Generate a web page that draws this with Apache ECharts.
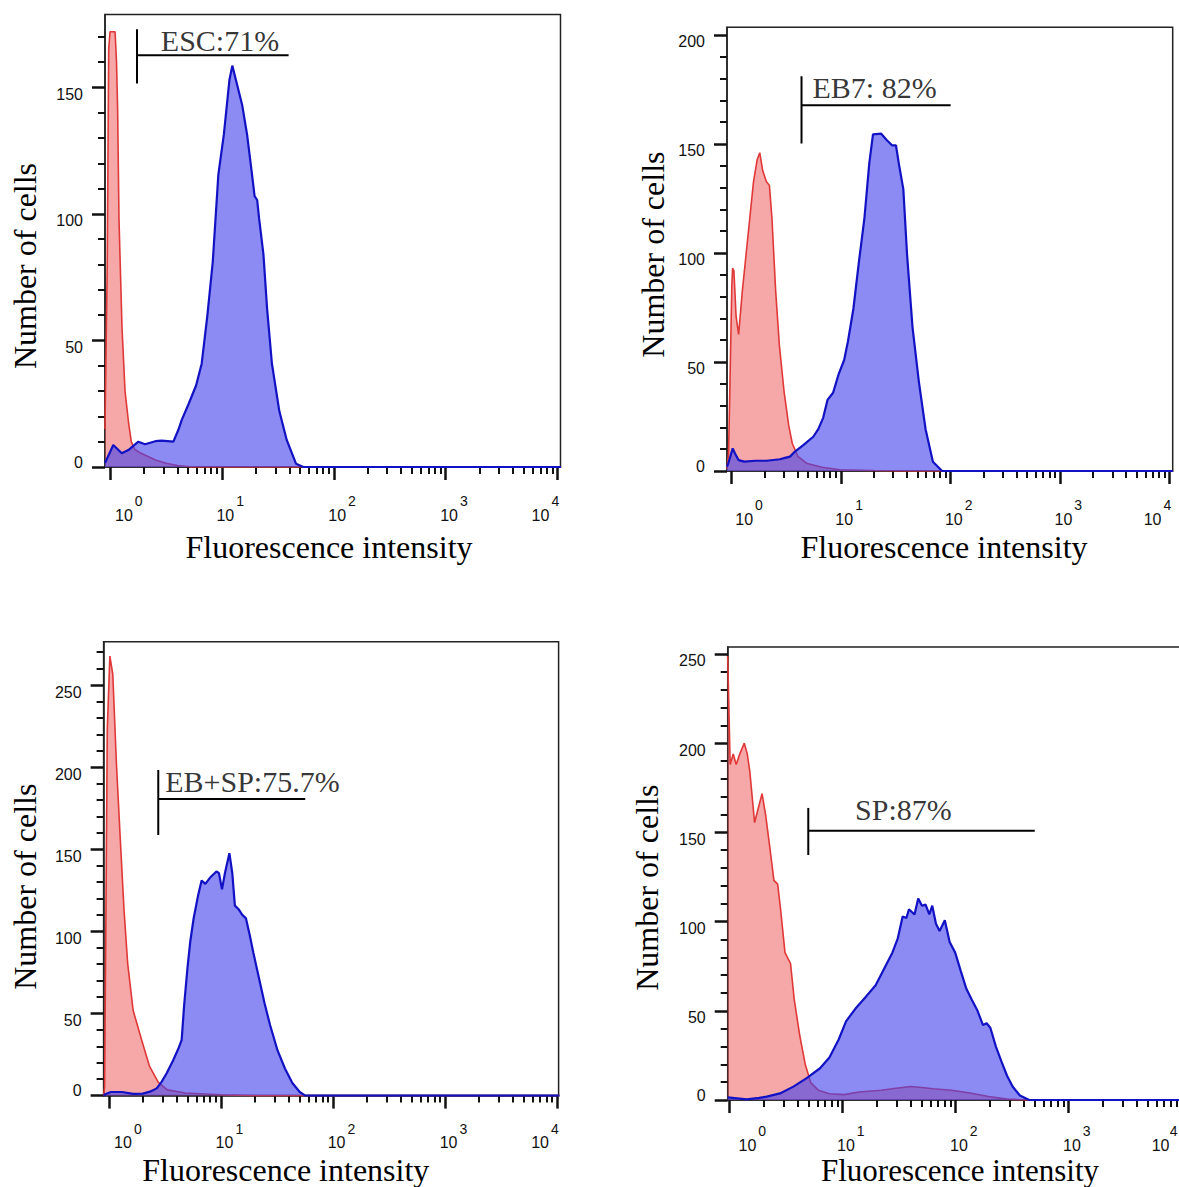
<!DOCTYPE html>
<html>
<head>
<meta charset="utf-8">
<script src="https://cdn.jsdelivr.net/npm/echarts@6/dist/echarts.min.js"></script>
<style>
html,body{margin:0;padding:0;background:#ffffff;}
#chart{width:1179px;height:1187px;}
</style>
</head>
<body>
<div id="chart"></div>
<script>
// ---------------- DATA ----------------
// x values are log10(fluorescence intensity); y values are numbers of cells
const tickExps = [0, 1, 2, 3, 4];
const tickBase = '10';

// Panel A: ESC
const escCtrlX = [-0.045, -0.025, -0.012, 0.0, 0.045, 0.058, 0.068, 0.080, 0.107, 0.134, 0.167, 0.19, 0.22, 0.273, 0.406, 0.5, 0.604, 0.736, 4.03];
const escCtrlY = [15, 80, 165, 172, 172, 160, 141, 98, 55, 30, 17, 10, 7, 5.5, 2.8, 1.5, 0.6, 0, 0];
const escStainX = [-0.045, 0.029, 0.105, 0.164, 0.253, 0.313, 0.405, 0.462, 0.566, 0.610, 0.641, 0.703, 0.769, 0.819, 0.869, 0.918, 0.968, 1.017, 1.067, 1.093, 1.133, 1.182, 1.225, 1.265, 1.292, 1.315, 1.332, 1.371, 1.404, 1.447, 1.513, 1.579, 1.662, 1.728, 4.03];
const escStainY = [1.6, 8.7, 5.4, 6.7, 10, 9, 10.2, 10.4, 10, 14.6, 18.6, 25, 32.2, 40.8, 59.5, 81, 115.5, 131.3, 152.9, 158.6, 151.5, 142.8, 131.3, 117, 107, 105.5, 98.3, 84, 62.4, 40.8, 22.1, 10.7, 1.3, 0, 0];

// Panel B: EB7
const eb7CtrlX = [-0.039, -0.025, -0.012, 0.005, 0.012, 0.024, 0.044, 0.067, 0.101, 0.135, 0.169, 0.203, 0.236, 0.260, 0.287, 0.321, 0.348, 0.371, 0.405, 0.439, 0.483, 0.524, 0.557, 0.608, 0.692, 0.827, 0.996, 1.3, 1.6, 4.03];
const eb7CtrlY = [1, 8, 40, 85, 93, 91.8, 70.9, 62.6, 82.6, 99.3, 116, 132.7, 142.7, 146, 137.7, 132.7, 131, 116, 82.6, 57.6, 35.9, 20.9, 12.6, 6.7, 3.4, 1.7, 0.5, 0.2, 0, 0];
const eb7StainX = [-0.039, -0.027, 0.013, 0.034, 0.067, 0.118, 0.220, 0.323, 0.444, 0.49, 0.536, 0.581, 0.657, 0.748, 0.794, 0.839, 0.878, 0.929, 0.979, 1.030, 1.064, 1.114, 1.165, 1.215, 1.259, 1.293, 1.368, 1.418, 1.469, 1.503, 1.529, 1.570, 1.604, 1.654, 1.712, 1.773, 1.840, 1.924, 4.03];
const eb7StainY = [2, 3.5, 10.4, 8, 5, 4.3, 4.7, 4.7, 5.4, 6, 6.6, 8.9, 11.9, 15.7, 19.2, 24.5, 32.6, 35.9, 44.3, 50.9, 59.3, 74.3, 96, 116, 141, 154.4, 154.7, 151.8, 149.3, 149.3, 141, 129.3, 99.3, 65.9, 40.9, 19.2, 4.2, 0, 0];

// Panel C: EB+SP
const ebspCtrlX = [-0.049, -0.04, -0.016, 0.007, 0.033, 0.066, 0.099, 0.133, 0.166, 0.215, 0.29, 0.36, 0.44, 0.52, 0.68, 1.0, 1.3, 4.02];
const ebspCtrlY = [0, 5, 223.6, 267.6, 256.6, 201.5, 157.5, 113.5, 80.4, 51.8, 34, 18, 8, 3.5, 1.6, 0.5, 0, 0];
const ebspStainX = [-0.049, -0.03, 0.017, 0.116, 0.215, 0.30, 0.365, 0.425, 0.470, 0.514, 0.573, 0.618, 0.648, 0.67, 0.70, 0.725, 0.755, 0.795, 0.826, 0.859, 0.909, 0.958, 0.981, 1.008, 1.034, 1.074, 1.100, 1.123, 1.156, 1.189, 1.222, 1.255, 1.288, 1.338, 1.388, 1.437, 1.504, 1.570, 1.636, 1.702, 1.751, 4.02];
const ebspStainY = [0, 1, 2.2, 2.2, 1.1, 1.2, 2.4, 4.4, 8.5, 13.6, 21.7, 28.5, 34, 55, 78, 94, 108, 122, 131, 128.9, 133.3, 136.5, 135.4, 125.6, 135.4, 147.6, 135.4, 115.7, 113.5, 110.1, 107.9, 98, 87, 71.6, 56.2, 43, 27.5, 16.5, 7.7, 2.2, 0, 0];

// Panel D: SP
const spCtrlX = [-0.016, 0.006, 0.033, 0.059, 0.091, 0.131, 0.157, 0.180, 0.222, 0.255, 0.288, 0.320, 0.353, 0.393, 0.426, 0.452, 0.491, 0.540, 0.573, 0.622, 0.64, 0.671, 0.720, 0.786, 0.884, 1.015, 1.146, 1.343, 1.473, 1.604, 1.703, 1.801, 1.965, 2.128, 2.292, 2.456, 2.619, 4.03];
const spCtrlY = [248.8, 188, 194, 188, 194, 200, 194, 184, 155.5, 163.7, 171.7, 159.6, 143.4, 123.1, 121, 106.9, 82.6, 76.5, 56.2, 36, 30, 19.7, 9.6, 5.5, 3.5, 3, 4.5, 5.5, 6.6, 7.6, 7, 6.3, 5.5, 3.9, 2, 0.5, 0, 0];
const spStainX = [-0.016, 0.152, 0.262, 0.329, 0.447, 0.565, 0.683, 0.801, 0.884, 0.966, 1.031, 1.113, 1.211, 1.293, 1.375, 1.441, 1.489, 1.532, 1.565, 1.588, 1.637, 1.670, 1.703, 1.735, 1.768, 1.794, 1.827, 1.859, 1.905, 1.948, 1.997, 2.046, 2.096, 2.144, 2.194, 2.243, 2.275, 2.308, 2.358, 2.406, 2.456, 2.505, 2.570, 2.652, 4.03];
const spStainY = [1.5, 0.4, 1.2, 1.9, 3.7, 7.5, 12.3, 17.8, 23.8, 33.9, 44.1, 51.1, 58.2, 64.3, 74.4, 82.6, 90.6, 102.8, 102, 106.9, 104, 113, 108.9, 109.5, 104, 108.9, 98.8, 94.7, 100.8, 88.6, 82.6, 72.4, 62.3, 56.2, 50.1, 42, 43, 40.5, 29.8, 21.7, 13.6, 7.6, 2.5, 0, 0];

// Gates (log10 x positions, cell counts)
const gateLabels = ['ESC:71%', 'EB7: 82%', 'EB+SP:75.7%', 'SP:87%'];
const gateStartX = [0.241, 0.641, 0.439, 0.697];
const gateEndX   = [1.596, 2.002, 1.751, 2.701];
const gateBarY   = [162.7, 167.7, 180.6, 150.9];
const gateLowY   = [151.5, 150.2, 158.7, 137.3];
const gateHighY  = [173, 181, 198.3, 163.7];
const gateTextX  = [0.983, 1.308, 1.280, 1.539];
const gateTextY  = [168.7, 176.1, 191, 162.6];

const yMajorTicks = [[0,50,100,150], [0,50,100,150,200], [0,50,100,150,200,250], [0,50,100,150,200,250]];
const yMinorTop = [170, 200, 270, 240];

const xTitle = 'Fluorescence intensity';
const yTitle = 'Number of cells';

// ---------------- LAYOUT ----------------
const layout = [
  {left:105,   top:14.5,  width:455.5, height:452.5, xMin:-0.045, xMax:4.026, yMax:178.8, firstShift:5, lastBase:-17.1, lastExp:-2.3, lblM:48, xt:[329,546.5], tf:32, yt:[25.3,266]},
  {left:727,   top:27.3,  width:445.7, height:443.7, xMin:-0.039, xMax:4.028, yMax:203.5, firstShift:4, lastBase:-17.1, lastExp:-2.3, lblM:48, xt:[944,547], tf:32, yt:[652.7,254.6]},
  {left:103.6, top:641.7, width:455,   height:453.9, xMin:-0.049, xMax:4.013, yMax:276.4, firstShift:5, lastBase:-17.1, lastExp:-2.3, lblM:47, xt:[285.8,1169.5], tf:32, yt:[25.3,886.7]},
  {left:727.7, top:647,   width:456,   height:453,   xMin:-0.016, xMax:4.019, yMax:253.9, firstShift:9, lastBase:-21,   lastExp:-8,   lblM:45, xt:[960,1170], tf:31, yt:[647,887.7]}
];

const ctrl = [[escCtrlX, escCtrlY], [eb7CtrlX, eb7CtrlY], [ebspCtrlX, ebspCtrlY], [spCtrlX, spCtrlY]];
const stain = [[escStainX, escStainY], [eb7StainX, eb7StainY], [ebspStainX, ebspStainY], [spStainX, spStainY]];

const zip = (xs, ys) => xs.map((x, i) => [x, ys[i]]);

const minorX = [];
for (let n = 0; n < 4; n++) for (let k = 2; k <= 9; k++) minorX.push(n + Math.log10(k));

const SANS = '"Liberation Sans", Arial, sans-serif';
const SERIF = '"Liberation Serif", "Times New Roman", serif';
const TXT = '#111';

const grids = [], xAxes = [], yAxes = [], series = [], graphics = [];

function hiddenX(i, L, extra) {
  return Object.assign({type:'value', gridIndex:i, min:L.xMin, max:L.xMax, position:'bottom',
    axisLine:{show:false, onZero:false}, axisTick:{show:false}, axisLabel:{show:false}, splitLine:{show:false}}, extra);
}

layout.forEach((L, i) => {
  grids.push({left:L.left, top:L.top, width:L.width, height:L.height, show:true,
    borderColor:'#222', borderWidth:1.5, backgroundColor:'transparent', containLabel:false, outerBoundsMode:'none'});

  const decadePx = L.width / (L.xMax - L.xMin);
  // horizontal glyph-centre offsets (px) of "10" and the exponent relative to each tick
  const baseOff = tickExps.map(e => e === 0 ? L.firstShift + 8.9 : (e === 4 ? L.lastBase : 3.4));
  const expOff  = tickExps.map(e => e === 0 ? L.firstShift + 23.7 : (e === 4 ? L.lastExp : 18.2));
  const basePos = tickExps.map((e, k) => e + baseOff[k] / decadePx);
  const expPos  = tickExps.map((e, k) => e + expOff[k] / decadePx);

  const minorY = [];
  for (let v = 10; v <= yMinorTop[i]; v += 10) if (v % 50 !== 0) minorY.push(v);

  // 0: major x axis line + ticks
  xAxes.push({type:'value', gridIndex:i, min:L.xMin, max:L.xMax, position:'bottom',
    axisLine:{show:true, onZero:false, lineStyle:{color:'#222', width:1.5}},
    axisTick:{show:true, customValues:tickExps, length:13, lineStyle:{color:'#111', width:2.5}},
    axisLabel:{show:false}, splitLine:{show:false}});
  // 1: minor x ticks
  xAxes.push(hiddenX(i, L, {axisTick:{show:true, customValues:minorX, length:7, lineStyle:{color:'#111', width:2}}}));
  // 2: "10" part of the labels
  xAxes.push(hiddenX(i, L, {axisLabel:{show:true, customValues:basePos, margin:L.lblM, verticalAlign:'middle', align:'center',
    fontSize:16, lineHeight:16, fontFamily:SANS, color:TXT, formatter: () => tickBase}}));
  // 3: exponent part of the labels
  xAxes.push(hiddenX(i, L, {axisLabel:{show:true, customValues:expPos, margin:L.lblM - 14, verticalAlign:'middle', align:'center',
    fontSize:14, lineHeight:14, fontFamily:SANS, color:TXT,
    formatter: v => String(tickExps.reduce((b, e) => Math.abs(e - v) < Math.abs(b - v) ? e : b, tickExps[0]))}}));

  // major y axis
  yAxes.push({type:'value', gridIndex:i, min:0, max:L.yMax, position:'left',
    axisLine:{show:true, onZero:false, lineStyle:{color:'#222', width:1.5}},
    axisTick:{show:true, customValues:yMajorTicks[i], length:13, lineStyle:{color:'#111', width:2.5}},
    splitLine:{show:false},
    axisLabel:{show:true, customValues:yMajorTicks[i], margin:22, color:TXT, fontFamily:SANS, fontSize:16,
      formatter: v => (Math.round(v) === 0 ? '{z|0}' : '{n|' + Math.round(v) + '}'),
      rich:{
        n:{fontSize:16, lineHeight:16, fontFamily:SANS, color:TXT, padding:[14,0,0,0]},
        z:{fontSize:16, lineHeight:16, fontFamily:SANS, color:TXT, padding:[0,0,10,0]}
      }
    }
  });
  // minor y ticks
  yAxes.push({type:'value', gridIndex:i, min:0, max:L.yMax, position:'left',
    axisLine:{show:false, onZero:false},
    axisTick:{show:true, customValues:minorY, length:7, lineStyle:{color:'#111', width:2}},
    axisLabel:{show:false}, splitLine:{show:false}});

  const xi = 4 * i, yi = 2 * i;
  series.push({type:'line', xAxisIndex:xi, yAxisIndex:yi, data:zip(ctrl[i][0], ctrl[i][1]),
    symbol:'none', showSymbol:false, silent:true, animation:false, z:2,
    lineStyle:{color:'#e03838', width:1.6}, areaStyle:{color:'rgba(238,92,92,0.54)', opacity:1}});
  series.push({type:'line', xAxisIndex:xi, yAxisIndex:yi, data:zip(stain[i][0], stain[i][1]),
    symbol:'none', showSymbol:false, silent:true, animation:false, z:3,
    lineStyle:{color:'#1212c4', width:2.2}, areaStyle:{color:'rgba(68,68,235,0.62)', opacity:1}});
  // gate marker
  series.push({type:'line', xAxisIndex:xi, yAxisIndex:yi, symbol:'none', silent:true, animation:false, z:4,
    data:[[gateStartX[i], gateLowY[i]], [gateStartX[i], gateHighY[i]]],
    lineStyle:{color:'#000', width:2}});
  series.push({type:'line', xAxisIndex:xi, yAxisIndex:yi, symbol:'none', silent:true, animation:false, z:4,
    data:[[gateStartX[i], gateBarY[i]], [gateEndX[i], gateBarY[i]]],
    lineStyle:{color:'#000', width:2}});
  series.push({type:'scatter', xAxisIndex:xi, yAxisIndex:yi, silent:true, animation:false, z:5,
    symbolSize:1, itemStyle:{color:'transparent'},
    data:[[gateTextX[i], gateTextY[i]]],
    label:{show:true, position:'inside', formatter:gateLabels[i], fontFamily:SERIF, fontSize:30, color:'#000'}});

  graphics.push({type:'text', x:L.xt[0], y:L.xt[1], silent:true,
    style:{text:xTitle, font:L.tf + 'px ' + SERIF, fontSize:L.tf, fontFamily:SERIF, fill:'#000',
      align:'center', verticalAlign:'middle', textAlign:'center', textVerticalAlign:'middle'}});
  graphics.push({type:'text', x:L.yt[0], y:L.yt[1], rotation:Math.PI / 2, silent:true,
    style:{text:yTitle, font:'32px ' + SERIF, fontSize:32, fontFamily:SERIF, fill:'#000',
      align:'center', verticalAlign:'middle', textAlign:'center', textVerticalAlign:'middle'}});
});

const chart = echarts.init(document.getElementById('chart'), null, {renderer:'svg', width:1179, height:1187});
chart.setOption({
  backgroundColor:'#ffffff',
  animation:false,
  grid:grids, xAxis:xAxes, yAxis:yAxes, series:series, graphic:graphics
});
</script>
</body>
</html>
